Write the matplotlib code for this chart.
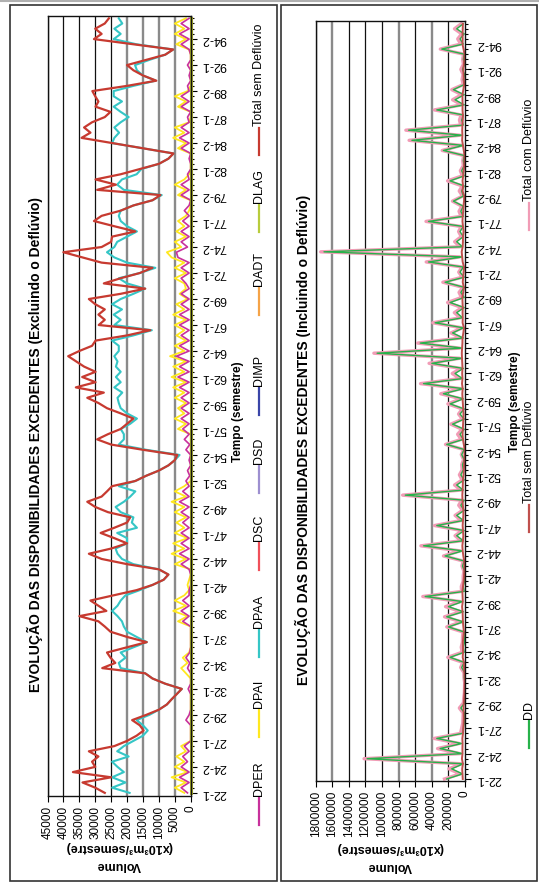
import matplotlib
matplotlib.use('Agg')
import matplotlib.pyplot as plt
import numpy as np
from matplotlib.lines import Line2D
from matplotlib.patches import Rectangle

plt.rcParams['font.family'] = ['Liberation Sans', 'DejaVu Sans']

W, H = 539, 883

# semesters 22-1 ... 96-2
semesters = [f'{y}-{s}' for y in range(22, 97) for s in (1, 2)]

# volumes in 10^3 m3/semestre, read in thousands
total_sem = [27, 30, 34, 25, 37, 30, 31, 29, 32, 24,
             20, 17, 14.8, 16, 18.4, 14, 10, 7.5, 6, 4.4,
             2.8, 8, 12, 14.3, 27.8, 23.7, 25.2, 26.3, 20, 13.8,
             20, 25.2, 27, 29, 35, 26.5, 29, 31.5, 24.2, 17,
             12, 8.5, 7, 10, 20, 28, 32, 25, 20, 24,
             28.3, 24, 20, 19, 26, 30, 32.5, 28, 26.3, 24.7,
             17.4, 14, 10, 7, 5, 4.2, 15, 25, 29.4, 26,
             22, 20, 18, 22, 26.3, 29, 32.5, 27.3, 36.1, 29.9,
             34.1, 29.9, 33.5, 36, 38.5, 35, 31, 29.9, 20, 12.7,
             28.9, 27, 29, 27, 30, 32, 22, 14.3, 27.3, 22,
             16, 12, 28, 34, 40, 28, 25, 24.7, 17.4, 24,
             30.4, 28, 22, 18, 12, 9.5, 29.4, 23.5, 29.9, 22,
             16, 10, 7, 5.4, 15, 24.7, 34.3, 31.5, 33.5, 31,
             27, 25.2, 29.9, 29, 30, 30.9, 20, 10.8, 15, 18,
             20, 14, 8, 5.5, 18, 30.4, 28, 30, 27, 25.7]

dpaa = [19.2, 24.7, 20.5, 24.7, 21, 23, 24.7, 19.5, 23.1, 21,
        18, 15, 13.5, 15, 17, 13, 10, 7.5, 6, 4.4,
        2.8, 8, 12, 14.3, 22, 22.6, 20.5, 22, 18, 13.8,
        17, 20, 21, 21.6, 23, 24.7, 23, 22, 20.5, 16,
        12, 8.5, 7, 10, 18, 21.6, 23, 23.6, 20, 20,
        23.1, 16.9, 18.5, 18, 22, 23.6, 21, 19, 17.4, 22.6,
        17.4, 14, 10, 7, 5, 3.5, 14, 22.6, 21, 21,
        22, 19, 16.9, 20, 22, 22.6, 23, 21.5, 24, 22,
        23.5, 22, 23.5, 23, 24, 22.6, 22.6, 24.7, 18, 12.2,
        24, 22, 24.2, 21.6, 24.7, 22, 18, 14.3, 20, 22.6,
        16, 11.1, 20, 24, 26.3, 24, 23.1, 20, 16.9, 20,
        22, 22.6, 22, 18, 12, 9.1, 21, 23.1, 21.6, 17,
        15.5, 10, 7, 5.4, 15, 24.7, 24, 22.5, 24, 22,
        19.5, 22, 24.2, 21.6, 24.2, 24.2, 18, 11, 15, 16.9,
        17.5, 13, 8, 5.5, 17, 24.2, 22, 24, 21.5, 22.6]

dpai = [2, 5, 1.5, 6, 1, 5, 2, 4.5, 1.5, 3,
        0, 0, 0, 0, 0, 0, 0, 0, 0, 0, 0, 0, 0,
        1.5, 3, 1, 2.5, 0.5,
        0, 0, 0, 0, 0,
        4, 1, 5.5, 1.5, 5, 2,
        0.5, 1, 0.5, 0, 0,
        5, 1.5, 6, 2, 5.5, 1, 5, 2, 4.5, 1.5, 5, 2, 6, 1.5, 5, 2,
        0, 0, 0, 0, 0, 0, 0, 0, 0, 0,
        4, 1.5, 5, 2, 4, 1.5, 5,
        2, 5.5, 1.5, 6, 2, 5.5, 1.5, 6.5, 2, 5, 1.5, 4.5, 2, 5, 1.5, 5.5, 2, 4.5, 1, 3.5, 1.5, 2, 5,
        1.5, 5, 2, 6, 7.5, 3, 5, 1.5, 4.5, 2, 4, 1.5,
        0.5, 0, 0, 4, 1.5, 5, 2, 0.5,
        0, 0, 0, 0,
        4, 1.5, 5.5, 2, 5,
        0.5, 0, 0,
        4, 1.5, 5, 1,
        0, 0, 0, 0, 0, 0, 0, 0.5,
        4.5, 1.5, 5, 2, 5, 1.5]

dper = [1, 3, 0.5, 3.5, 0.5, 3, 1, 2.5, 0.5, 2,
        0, 0, 0, 0, 1.5, 0.5, 0, 0, 0, 0, 0.8, 0, 0,
        0, 1, 0.3, 1.5, 0.3,
        0, 0, 0, 0, 0,
        2.5, 0.5, 3, 0.5, 2.5, 0.5,
        0.5, 0, 0, 0, 0.5,
        3, 0.5, 3.5, 0.5, 3, 0.5, 3, 0.5, 2.5, 0.5, 3, 0.5, 3.5, 0.5, 2.5, 0.5,
        1.5, 0.3, 1, 0, 0.5, 0, 1.5, 0.3, 2, 0.5,
        2.5, 0.5, 3, 0.5, 3, 0.5, 3,
        0.5, 3.5, 0.5, 4, 0.5, 3.5, 0.5, 4.5, 0.5, 3.5, 0.5, 3, 0.5, 3.5, 0.5, 3.5, 0.5, 3, 0.5, 3, 0.5, 1.5, 3,
        0.5, 3, 0.5, 4, 4.5, 1, 3, 0.5, 3, 0.5, 2.5, 0.5,
        2, 0.5, 0, 3, 0.5, 3, 0.5, 1,
        0, 0, 0.5, 0,
        3, 0.5, 3.5, 0.5, 3,
        0.5, 1, 0,
        3, 0.5, 3, 0.5,
        1, 0, 0.5, 0, 1, 0, 0, 0.5,
        3, 0.5, 3.5, 0.5, 3, 0.5]

zeros = [0] * len(semesters)
dsc = zeros
dsd = zeros
dimp = zeros
dadt = zeros
dlag = zeros

# deflúvio (DD), thousands
dd = [220, 30, 160, 20, 1180, 30, 300, 40, 340, 30,
      20, 10, 10, 5, 50, 5, 5, 0, 0, 0,
      10, 5, 40, 10, 180, 10, 20, 5, 10, 10,
      200, 20, 220, 20, 200, 30, 480, 10, 20, 5,
      10, 5, 30, 10, 240, 30, 500, 20, 100, 10,
      340, 20, 100, 10, 50, 10, 720, 20, 100, 10,
      50, 20, 30, 10, 40, 10, 220, 20, 60, 10,
      150, 10, 60, 10, 180, 20, 260, 20, 500, 30,
      120, 20, 400, 30, 1060, 30, 540, 20, 150, 20,
      360, 30, 100, 10, 180, 10, 50, 10, 240, 10,
      60, 20, 440, 30, 1700, 30, 100, 20, 60, 20,
      440, 20, 50, 20, 140, 20, 40, 10, 180, 10,
      40, 10, 20, 10, 260, 20, 640, 30, 680, 20,
      40, 20, 340, 10, 120, 10, 140, 10, 20, 5,
      30, 5, 20, 10, 280, 20, 60, 10, 100, 20]

k = 1000
t = np.arange(len(semesters))
total_sem = np.array(total_sem) * k
dd = np.array(dd) * k
total_com = dd + total_sem

fig = plt.figure(figsize=(W / 100, H / 100), dpi=100)

def fx(px):
    return px / W

def fy(py):
    return 1 - py / H

# page frames
fig.add_artist(Line2D([0, 1], [fy(1.3), fy(1.3)], color='#b0b0b0', lw=1.5))
fig.add_artist(Rectangle((fx(10), fy(881)), fx(277) - fx(10), fy(5) - fy(881),
                         fill=False, ec='#333333', lw=1.2))
fig.add_artist(Rectangle((fx(281), fy(881)), fx(537) - fx(281), fy(5) - fy(881),
                         fill=False, ec='#333333', lw=1.2))


def setup(ax, vmax, step, grid_cols, ylo, yhi):
    ticks = np.arange(0, vmax + 1, step)
    ax.set_xlim(vmax, 0)
    ax.set_ylim(ylo, yhi)
    for v, c in zip(ticks[1:], grid_cols):
        if c == 'k':
            ax.axvline(v, color='#111111', lw=0.9, zorder=0.5)
        else:
            ax.axvline(v, color='#8a8a8a', lw=1.7, zorder=0.5)
    ax.set_xticks(ticks)
    ax.set_xticklabels([str(int(v)) for v in ticks])
    ax.tick_params(axis='x', labelsize=8.5, length=4, width=0.8, pad=3, rotation=90)
    ax.yaxis.tick_right()
    ax.set_yticks(t[::5])
    ax.set_yticklabels(semesters[::5])
    ax.set_yticks(t, minor=True)
    ax.tick_params(axis='y', which='major', labelsize=9, length=4, width=0.8, pad=4,
                   labelrotation=180)
    ax.tick_params(axis='y', which='minor', length=2.5, width=0.8)
    for lab in ax.get_yticklabels():
        lab.set_va('center')
    for s in ax.spines.values():
        s.set_color('#111111')
        s.set_linewidth(1.0)


# ---- left panel
ax1 = fig.add_axes([fx(47.5), fy(796), fx(190.7) - fx(47.5), fy(15.7) - fy(796)])
setup(ax1, 45000, 5000, ['g', 'g', 'g', 'g', 'k', 'k', 'k', 'k', 'k'], -0.6, 149.5)
ax1.plot(np.array(dpai) * k, t, color='#ffe81f', lw=1.3, zorder=2)
ax1.plot(np.array(dper) * k, t, color='#c8319c', lw=1.2, zorder=2.1)
ax1.plot(np.array(dpaa) * k, t, color='#35c6c6', lw=1.5, zorder=2.2)
ax1.plot(np.array(dsc) * k, t, color='#f0505a', lw=1.2, zorder=2.3)
ax1.plot(np.array(dsd) * k, t, color='#9d8fd0', lw=1.2, zorder=2.3)
ax1.plot(np.array(dimp) * k, t, color='#3a45a8', lw=1.2, zorder=2.3)
ax1.plot(np.array(dadt) * k, t, color='#f5a347', lw=1.2, zorder=2.3)
ax1.plot(np.array(dlag) * k, t, color='#a9ad2e', lw=2.2, zorder=2.5, clip_on=False)
ax1.plot(total_sem, t, color='#c73a30', lw=1.6, zorder=3)

# ---- right panel
ax2 = fig.add_axes([fx(315.7), fy(781), fx(465) - fx(315.7), fy(20.7) - fy(781)])
setup(ax2, 1800000, 200000, ['k', 'g', 'k', 'g', 'k', 'k', 'k', 'g', 'k'], -0.4, 149.6)
ax2.plot(total_com, t, color='#f19cb6', lw=2.4, zorder=2)
ax2.plot(dd, t, color='#27b24a', lw=1.0, zorder=2.2)
ax2.plot(total_sem, t, color='#c0504d', lw=1.4, zorder=2.4)

# ---- titles and axis labels (chart is turned a quarter turn)
fig.text(fx(35), fy(444), 'EVOLUÇÃO DAS DISPONIBILIDADES EXCEDENTES (Excluindo o Deflúvio)',
         rotation=90, ha='center', va='center', fontsize=10, fontweight='bold')
fig.text(fx(303), fy(440), 'EVOLUÇÃO DAS DISPONIBILIDADES EXCEDENTES (Incluindo o Deflúvio)',
         rotation=90, ha='center', va='center', fontsize=10, fontweight='bold')

for xc, yc in [(238, 412), (515, 402)]:
    fig.text(fx(xc), fy(yc), 'Tempo (semestre)', rotation=90, ha='center', va='center',
             fontsize=8.5, fontweight='bold')

for xc, y1, y2 in [(119, 847, 865), (390, 848, 866)]:
    fig.text(fx(xc), fy(y1), '(x10³m³/semestre)', rotation=180, ha='center', va='center',
             fontsize=9, fontweight='bold')
    fig.text(fx(xc), fy(y2), 'Volume', rotation=180, ha='center', va='center',
             fontsize=9, fontweight='bold')

# ---- legends
left_legend = [('DPER', '#c8319c', 825), ('DPAI', '#ffe81f', 737), ('DPAA', '#35c6c6', 657),
               ('DSC', '#f0505a', 570), ('DSD', '#9d8fd0', 493), ('DIMP', '#3a45a8', 415),
               ('DADT', '#f5a347', 315), ('DLAG', '#b8cc3c', 232),
               ('Total sem Deflúvio', '#c73a30', 155)]
right_legend = [('DD', '#27b24a', 748), ('Total sem Deflúvio', '#c0504d', 532),
                ('Total com Deflúvio', '#f19cb6', 230)]


def legend_entry(x, y0, label, color):
    fig.add_artist(Line2D([fx(x), fx(x)], [fy(y0), fy(y0 - 27)], color=color, lw=1.6))
    fig.text(fx(x), fy(y0 - 29), label, rotation=90, rotation_mode='anchor',
             ha='left', va='center', fontsize=9)


for label, color, y0 in left_legend:
    legend_entry(259, y0, label, color)
for label, color, y0 in right_legend:
    legend_entry(529, y0, label, color)

fig.savefig('out.png', dpi=100)
